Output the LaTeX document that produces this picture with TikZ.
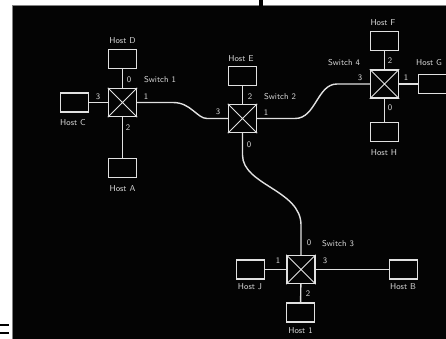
\documentclass[tikz,border=0pt]{standalone}
\usepackage{xcolor}
\definecolor{bgc}{RGB}{4,4,4}
\definecolor{linec}{RGB}{225,225,225}
\definecolor{txtc}{RGB}{215,215,215}
\definecolor{framec}{RGB}{130,130,130}
\begin{document}
\begin{tikzpicture}[x=1pt,y=-1pt,
  host/.style={draw=linec, line width=1.4pt, minimum width=28pt, minimum height=19pt, inner sep=0pt},
  sw/.style={draw=linec, line width=1.4pt, minimum width=28pt, minimum height=28pt, inner sep=0pt},
  link/.style={draw=linec, line width=1.4pt},
  xline/.style={draw=linec, line width=0.9pt},
  lab/.style={text=txtc, font=\sffamily\fontsize{8.5}{10}\selectfont, inner sep=0pt}
]
\useasboundingbox (0,0) rectangle (446,339);
\clip (0,0) rectangle (446,339);
\fill[white] (0,0) rectangle (446,339);
\fill[bgc] (12,6) rectangle (446,339);
\draw[framec, line width=1pt] (12,339) -- (12,6) -- (446,6);
\fill[black] (259,0) rectangle (263,6);
\fill[black] (0,324) rectangle (9,325.5);
\fill[black] (0,332) rectangle (9,333.5);

% switches
\node[sw] (S1) at (122.5,102.5) {};
\node[sw] (S2) at (242.5,118.5) {};
\node[sw] (S4) at (384.5,84) {};
\node[sw] (S3) at (301,269.5) {};
\foreach \s in {S1,S2,S3,S4}{
  \draw[xline] (\s.north west) -- (\s.south east) (\s.north east) -- (\s.south west);
}

% hosts
\node[host] (HD) at (122.5,59) {};
\node[host] (HC) at (74.5,102.5) {};
\node[host] (HA) at (122.5,168) {};
\node[host] (HE) at (242.5,76) {};
\node[host] (HF) at (384.5,41) {};
\node[host] (HG) at (432.5,84) {};
\node[host] (HH) at (384.5,132) {};
\node[host] (HJ) at (250.5,269.5) {};
\node[host] (HB) at (403.5,269.5) {};
\node[host] (HI) at (300.5,312.5) {};

% host links
\draw[link] (HD) -- (S1);
\draw[link] (HC) -- (S1);
\draw[link] (HA) -- (S1);
\draw[link] (HE) -- (S2);
\draw[link] (HF) -- (S4);
\draw[link] (HG) -- (S4);
\draw[link] (HH) -- (S4);
\draw[link] (HJ) -- (S3);
\draw[link] (HB) -- (S3);
\draw[link] (HI) -- (S3);

% switch links
\draw[link] (S1.east) -- (173,102.5) .. controls (191,102.5) and (197,118.5) .. (207,118.5) -- (S2.west);
\draw[link] (S2.east) -- (295,118.5) .. controls (316,118.5) and (317,84) .. (337,84) -- (S4.west);
\draw[link] (S2.south) -- (242.5,155) .. controls (242.5,185) and (301,190) .. (301,225) -- (S3.north);

% host labels
\node[lab] (lD) at (122.5,41) {Host D};
\node[lab] (lC) at (73,123) {Host C};
\node[lab] (lA) at (122.5,189) {Host A};
\node[lab] (lE) at (241,59) {Host E};
\node[lab] (lF) at (383,23) {Host F};
\node[lab, anchor=west] (lG) at (416,63) {Host G};
\node[lab] (lH) at (384,153) {Host H};
\node[lab] (lJ) at (250,287) {Host J};
\node[lab] (lB) at (403,287) {Host B};
\node[lab] (lI) at (300.5,331) {Host 1};

% switch labels
\node[lab] (n1) at (160,80) {Switch 1};
\node[lab] (n2) at (280,97) {Switch 2};
\node[lab] (n4) at (344,63) {Switch 4};
\node[lab] (n3) at (338,244) {Switch 3};

% port labels
\node[lab] (p10) at (129,80) {0};
\node[lab] (p13) at (98,97) {3};
\node[lab] (p11) at (146,97) {1};
\node[lab] (p12) at (128,128) {2};
\node[lab] (p23) at (218,112) {3};
\node[lab] (p22) at (250,97) {2};
\node[lab] (p21) at (266,113) {1};
\node[lab] (p20) at (249,145) {0};
\node[lab] (p43) at (360,78) {3};
\node[lab] (p42) at (390,61) {2};
\node[lab] (p41) at (406,78) {1};
\node[lab] (p40) at (390,108) {0};
\node[lab] (p30) at (309,243) {0};
\node[lab] (p31) at (278,261) {1};
\node[lab] (p33) at (325,261) {3};
\node[lab] (p32) at (308,294) {2};
\end{tikzpicture}
\end{document}
